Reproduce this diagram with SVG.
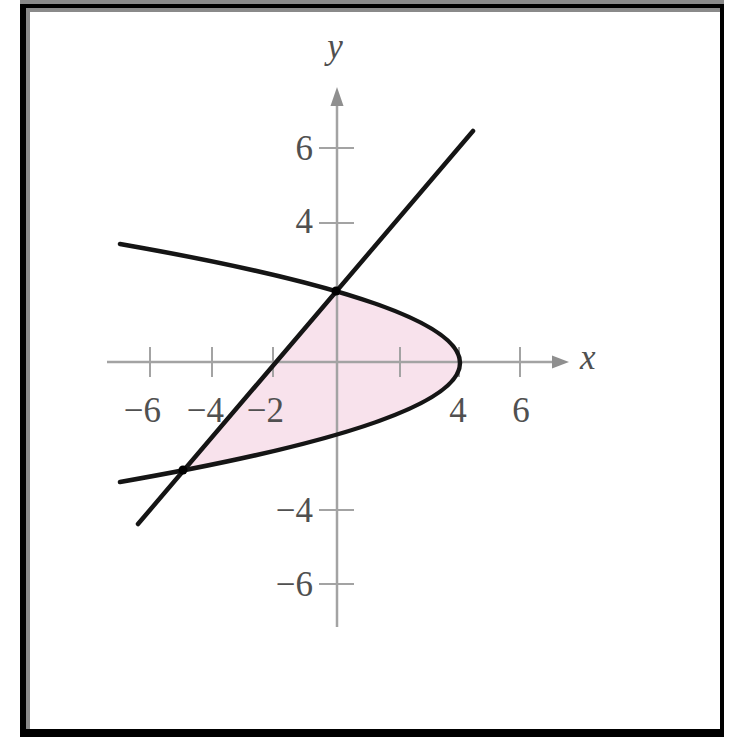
<svg xmlns="http://www.w3.org/2000/svg" width="738" height="737" viewBox="0 0 738 737">
<style>
.ax{stroke:#a3a3a3;stroke-width:2.5;fill:none}
.tk{stroke:#a3a3a3;stroke-width:2;fill:none}
.crv{stroke:#151515;stroke-width:4.5;fill:none;stroke-linecap:round}
.num{font-family:"Liberation Serif","DejaVu Serif",serif;font-size:35px;fill:#505050}
.var{font-family:"Liberation Serif","DejaVu Serif",serif;font-size:35px;font-style:italic;fill:#505050}
</style>
<rect x="0" y="0" width="738" height="737" fill="#ffffff"/>
<g id="frame">
<rect x="20" y="0" width="704" height="4" fill="#8a8a8a"/>
<rect x="20" y="4" width="704" height="4" fill="#000"/>
<rect x="26" y="8" width="694" height="4" fill="#8a8a8a"/>
<rect x="20" y="4" width="6" height="733" fill="#000"/>
<rect x="26" y="8" width="4" height="721" fill="#8a8a8a"/>
<rect x="720" y="4" width="4" height="733" fill="#000"/>
<rect x="20" y="729" width="704" height="8" fill="#000"/>
</g>
<g id="region">
<path d="M336,291.1 Q645.2,380.7 183.2,470.4 Z" fill="#f8e2ec"/>
</g>
<g id="axes">
<line class="ax" x1="107" y1="362" x2="556" y2="362"/>
<polygon points="569,362 552,355.5 552,368.5" fill="#8f8f8f"/>
<line class="ax" x1="337" y1="627" x2="337" y2="104"/>
<polygon points="337,87 330.5,106 343.5,106" fill="#8f8f8f"/>
<g id="xticks">
<line class="tk" x1="150" y1="347" x2="150" y2="377"/>
<line class="tk" x1="212" y1="347" x2="212" y2="377"/>
<line class="tk" x1="273" y1="347" x2="273" y2="377"/>
<line class="tk" x1="400" y1="347" x2="400" y2="377"/>
<line class="tk" x1="459" y1="347" x2="459" y2="377"/>
<line class="tk" x1="520" y1="347" x2="520" y2="377"/>
</g>
<g id="yticks">
<line class="tk" x1="319" y1="148" x2="354" y2="148"/>
<line class="tk" x1="319" y1="223" x2="354" y2="223"/>
<line class="tk" x1="319" y1="510" x2="354" y2="510"/>
<line class="tk" x1="319" y1="584" x2="354" y2="584"/>
</g>
</g>
<g id="curves">
<path class="crv" d="M120,244 Q800,363 120,482"/>
<line class="crv" x1="138" y1="524" x2="473" y2="131"/>
<circle cx="336" cy="291" r="4.5" fill="#000"/>
<circle cx="183" cy="470" r="4.5" fill="#000"/>
</g>
<g id="labels">
<text class="num" x="161" y="422" text-anchor="end">−6</text>
<text class="num" x="224" y="422" text-anchor="end">−4</text>
<text class="num" x="284" y="422" text-anchor="end">−2</text>
<text class="num" x="458" y="422" text-anchor="middle">4</text>
<text class="num" x="521" y="422" text-anchor="middle">6</text>
<text class="num" x="313" y="160" text-anchor="end">6</text>
<text class="num" x="313" y="233" text-anchor="end">4</text>
<text class="num" x="313" y="522" text-anchor="end">−4</text>
<text class="num" x="313" y="596" text-anchor="end">−6</text>
<text class="var" x="335" y="58" text-anchor="middle">y</text>
<text class="var" x="580" y="369">x</text>
</g>
</svg>
